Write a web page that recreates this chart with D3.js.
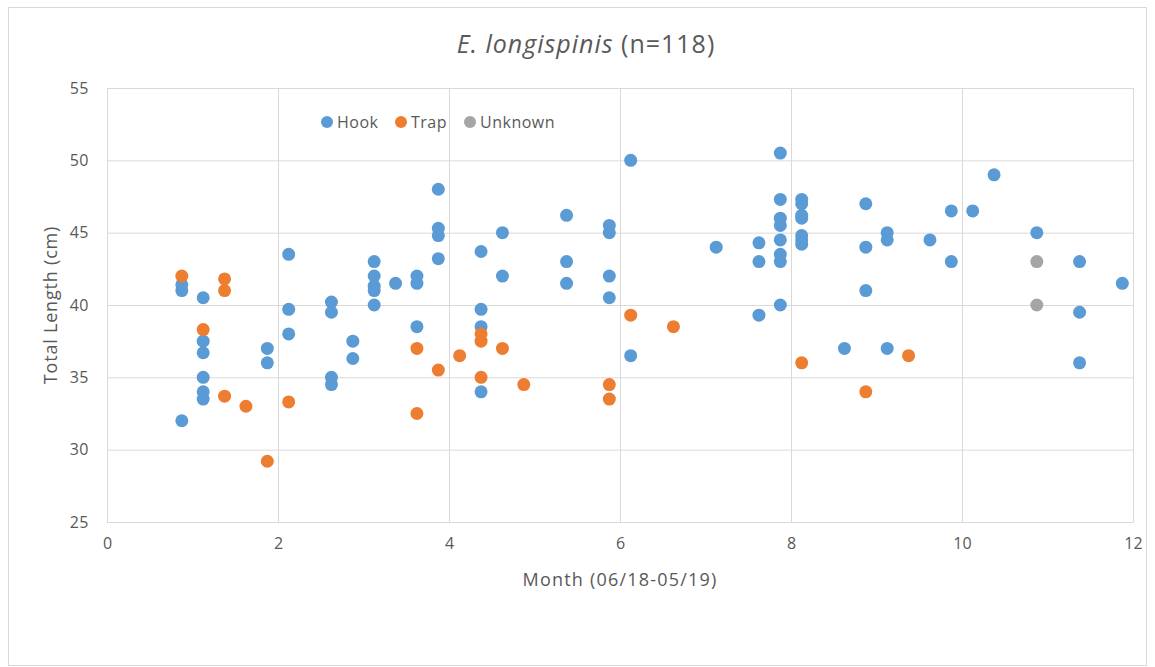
<!DOCTYPE html>
<html>
<head>
<meta charset="utf-8">
<script src="https://cdn.jsdelivr.net/npm/d3@7"></script>
<style>
  body { margin: 0; background: #fff; }
  svg text { font-family: "Open Sans", "Noto Sans", sans-serif; fill: #595959; }
</style>
</head>
<body>
<div id="chart"></div>
<script>
// months are week offsets within each month (x.125, x.375, ...)
var hookMonth = [0.875,0.875,0.875, 1.125,1.125,1.125,1.125,1.125,1.125, 1.875,1.875, 2.125,2.125,2.125,
  2.625,2.625,2.625,2.625, 2.875,2.875, 3.125,3.125,3.125,3.125,3.125, 3.375, 3.625,3.625,3.625,
  3.875,3.875,3.875,3.875, 4.375,4.375,4.375,4.375, 4.625,4.625, 5.375,5.375,5.375,
  5.875,5.875,5.875,5.875, 6.125,6.125, 7.125, 7.625,7.625,7.625,
  7.875,7.875,7.875,7.875,7.875,7.875,7.875,7.875, 8.125,8.125,8.125,8.125,8.125,8.125,8.125,
  8.625, 8.875,8.875,8.875, 9.125,9.125,9.125, 9.625, 9.875,9.875, 10.125, 10.375, 10.875,
  11.375,11.375,11.375, 11.875]
var hookLength = [41.4,41.0,32.0, 40.5,37.5,36.7,35.0,34.0,33.5, 37.0,36.0, 43.5,39.7,38.0,
  40.2,39.5,35.0,34.5, 37.5,36.3, 43.0,42.0,41.3,41.0,40.0, 41.5, 42.0,41.5,38.5,
  48.0,45.3,44.8,43.2, 43.7,39.7,38.5,34.0, 45.0,42.0, 46.2,43.0,41.5,
  45.5,45.0,42.0,40.5, 50.0,36.5, 44.0, 44.3,43.0,39.3,
  50.5,47.3,46.0,45.5,44.5,43.5,43.0,40.0, 47.3,47.0,46.2,46.0,44.8,44.5,44.2,
  37.0, 47.0,44.0,41.0, 45.0,44.5,37.0, 44.5, 46.5,43.0, 46.5, 49.0, 45.0,
  43.0,39.5,36.0, 41.5]

var trapMonth = [0.875, 1.125, 1.375,1.375,1.375, 1.625, 1.875, 2.125, 3.625,3.625, 3.875, 4.125,
  4.375,4.375,4.375, 4.625, 4.875, 5.875,5.875, 6.125, 6.625, 8.125, 8.875, 9.375]
var trapLength = [42.0, 38.3, 41.8,41.0,33.7, 33.0, 29.2, 33.3, 37.0,32.5, 35.5, 36.5,
  38.0,37.5,35.0, 37.0, 34.5, 34.5,33.5, 39.3, 38.5, 36.0, 34.0, 36.5]

var unknownMonth = [10.875, 10.875]
var unknownLength = [43.0, 40.0]

var seriesNames = ["Hook", "Trap", "Unknown"]
var seriesColors = ["#5b9bd5", "#ed7d31", "#a5a5a5"]
var xTicks = [0, 2, 4, 6, 8, 10, 12]
var yTicks = [25, 30, 35, 40, 45, 50, 55]

var width = 1155, height = 667
var margin = {top: 88, right: 22, bottom: 145, left: 107}
var plotW = width - margin.left - margin.right
var plotH = height - margin.top - margin.bottom

var series = [
  {name: seriesNames[0], color: seriesColors[0], pts: d3.zip(hookMonth, hookLength)},
  {name: seriesNames[1], color: seriesColors[1], pts: d3.zip(trapMonth, trapLength)},
  {name: seriesNames[2], color: seriesColors[2], pts: d3.zip(unknownMonth, unknownLength)}
]

var svg = d3.select('#chart').append('svg')
    .attr('width', width)
    .attr('height', height)

// outer chart border
svg.append('rect')
    .attr('x', 8.5).attr('y', 7.5)
    .attr('width', 1138).attr('height', 658)
    .attr('fill', 'none')
    .attr('stroke', '#d9d9d9')

var x = d3.scaleLinear().domain([0, 12]).range([0, plotW])
var y = d3.scaleLinear().domain([25, 55]).range([plotH, 0])

var g = svg.append('g')
    .attr('transform', 'translate(' + margin.left + ',' + margin.top + ')')

// gridlines
g.append('g')
    .call(d3.axisLeft(y).tickValues(yTicks).tickSize(-plotW).tickFormat(''))
    .call(function(s){ s.select('.domain').remove() })
    .selectAll('line').attr('stroke', '#d9d9d9')

g.append('g')
    .attr('transform', 'translate(0,' + plotH + ')')
    .call(d3.axisBottom(x).tickValues(xTicks).tickSize(-plotH).tickFormat(''))
    .call(function(s){ s.select('.domain').remove() })
    .selectAll('line').attr('stroke', '#d9d9d9')

// tick labels
var yAxis = g.append('g')
    .call(d3.axisLeft(y).tickValues(yTicks).tickSize(0).tickPadding(18))
yAxis.select('.domain').remove()
yAxis.selectAll('text').style('font-size', '16px').style('letter-spacing', '0.5px')

var xAxis = g.append('g')
    .attr('transform', 'translate(0,' + plotH + ')')
    .call(d3.axisBottom(x).tickValues(xTicks).tickSize(0).tickPadding(16))
xAxis.select('.domain').attr('stroke', '#d9d9d9')
xAxis.selectAll('text').style('font-size', '16px')

// points
series.forEach(function(s) {
  g.append('g')
    .selectAll('circle')
    .data(s.pts)
    .enter()
    .append('circle')
    .attr('cx', function(d){ return x(d[0]) })
    .attr('cy', function(d){ return y(d[1]) })
    .attr('r', 6.5)
    .attr('fill', s.color)
})

// title
var title = svg.append('text')
    .attr('x', 586).attr('y', 53)
    .attr('text-anchor', 'middle')
    .style('font-size', '25px')
    .style('letter-spacing', '1px')
title.append('tspan').style('font-style', 'italic').text('E. longispinis')
title.append('tspan').text(' (n=118)')

// axis titles
svg.append('text')
    .attr('x', margin.left + plotW / 2).attr('y', 586)
    .attr('text-anchor', 'middle')
    .style('font-size', '18px')
    .style('letter-spacing', '1.2px')
    .text('Month (06/18-05/19)')

svg.append('text')
    .attr('transform', 'translate(57,' + (margin.top + plotH / 2) + ') rotate(-90)')
    .attr('text-anchor', 'middle')
    .style('font-size', '18px')
    .style('letter-spacing', '0.8px')
    .text('Total Length (cm)')

// legend
var legendX = [327, 401, 470]
var legend = svg.append('g').selectAll('g')
    .data(series)
    .enter()
    .append('g')
    .attr('transform', function(d, i){ return 'translate(' + legendX[i] + ',122)' })
legend.append('circle').attr('r', 6).attr('fill', function(d){ return d.color })
legend.append('text')
    .attr('x', 10).attr('dy', '0.35em')
    .style('font-size', '16px')
    .style('letter-spacing', '0.5px')
    .text(function(d){ return d.name })
</script>
</body>
</html>
